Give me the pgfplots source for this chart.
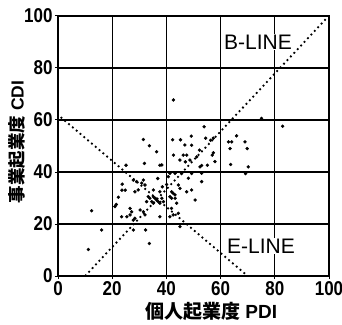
\documentclass[border=0pt]{standalone}
\usepackage{fontspec}
\setmainfont{Liberation Sans}
\newfontfamily\tickfont[FakeStretch=0.85]{Liberation Sans}
\newfontfamily\cjk{Noto Sans CJK JP}
\usepackage{pgfplots}
\pgfplotsset{compat=1.18}
\begin{document}
\begin{tikzpicture}
\useasboundingbox (-58pt,-48pt) rectangle (284pt,276pt);
\begin{axis}[
  scale only axis,
  width=271pt, height=260pt,
  xmin=0, xmax=100, ymin=0, ymax=100,
  xtick={0,20,...,100}, ytick={0,20,...,100},
  grid=major,
  major grid style={black, line width=1.3pt},
  axis line style={black, line width=1.4pt},
  tick style={black, line width=1pt},
  tick align=outside, major tick length=3pt,
  xtick pos=bottom, ytick pos=left,
  /pgf/number format/assume math mode=true,
  ticklabel style={font=\tickfont\bfseries\fontsize{20}{20}\selectfont},
  xticklabel style={yshift=1pt},
  yticklabel style={xshift=1pt},
  xlabel={{\cjk\bfseries 個人起業度} {\bfseries PDI}},
  ylabel={{\cjk\bfseries 事業起業度} {\bfseries CDI}},
  xlabel style={at={(axis description cs:0.565,-0.138)}, anchor=center, font=\fontsize{19}{19}\selectfont},
  ylabel style={at={(axis description cs:-0.151,0.516)}, anchor=center, rotate=0, font=\fontsize{17.5}{17.5}\selectfont},
  clip=false,
]
\addplot[black, line width=1.8pt, dash pattern=on 1.8pt off 3.2pt] coordinates {(10,0) (99,99)};
\addplot[black, line width=1.8pt, dash pattern=on 1.8pt off 3.2pt] coordinates {(1,61.1) (70,0)};
\addplot[only marks, mark=*, mark size=1.5pt, black] coordinates {
(11.2,10.2) (12.4,25.1) (16.1,17.7) (21.0,26.7) (21.5,27.5) (22.3,30.3)
(23.7,35.3) (23.6,33.0) (24.8,33.0) (25.1,42.6) (23.5,22.8) (25.4,22.8)
(26.6,23.5) (26.6,26.0) (27.2,24.7) (27.8,17.7) (28.4,22.2) (28.4,32.4)
(29.6,33.1) (27.8,36.9) (29.0,36.3) (30.9,35.7) (31.5,36.9) (32.1,35.0)
(31.5,52.5) (31.9,43.3) (30.3,25.4) (31.5,24.7) (32.1,23.5) (32.3,17.7)
(32.7,28.6) (33.3,30.5) (33.9,29.9) (33.7,50.1) (33.7,12.5) (34.6,28.6)
(35.2,28.0) (35.2,30.5) (35.8,29.9) (36.4,29.2) (35.2,33.1) (36.4,47.8)
(36.8,37.5) (37.6,42.6) (37.6,32.4) (37.0,28.6) (37.6,28.0) (38.3,29.9)
(38.9,28.6) (37.6,22.8) (38.5,34.3) (40.1,35.2) (40.7,38.2) (41.3,39.5)
(43.2,39.5) (41.9,32.4) (42.5,31.8) (43.2,31.2) (41.3,30.5) (41.9,29.9)
(43.2,29.9) (43.8,28.0) (41.9,26.0) (44.4,24.1) (41.3,22.8) (42.5,23.5)
(45.0,19.0) (44.4,35.0) (45.0,33.7) (48.1,37.6) (47.5,32.4) (49.3,33.1)
(50.6,29.2) (45.6,39.4) (49.3,39.4) (53.0,36.3) (53.0,39.5) (42.6,67.7)
(42.3,52.4) (45.2,52.4) (49.2,53.8) (46.8,50.4) (49.3,50.3) (42.6,46.5)
(46.2,46.5) (47.5,46.5) (45.0,44.6) (47.0,43.9) (48.7,44.6) (51.2,45.8)
(52.2,48.4) (52.4,42.0) (53.0,42.5) (55.1,42.6) (53.9,57.4) (54.5,53.0)
(56.3,52.2) (57.3,53.0) (56.9,46.5) (57.3,47.4) (57.9,44.0) (62.9,51.6)
(64.1,51.6) (63.5,49.0) (63.7,42.9) (65.9,53.9) (69.0,51.6) (69.8,49.0)
(69.2,39.4) (70.2,42.0) (75.1,60.6) (82.9,57.6) (27.8,21.5) (38.3,42.7)
};
\node[fill=white, inner sep=1pt, font=\fontsize{21}{21}\selectfont] at (axis cs:73.8,90) {B-LINE};
\node[fill=white, inner sep=1pt, font=\fontsize{21}{21}\selectfont] at (axis cs:74.9,11.5) {E-LINE};
\end{axis}
\end{tikzpicture}
\end{document}
